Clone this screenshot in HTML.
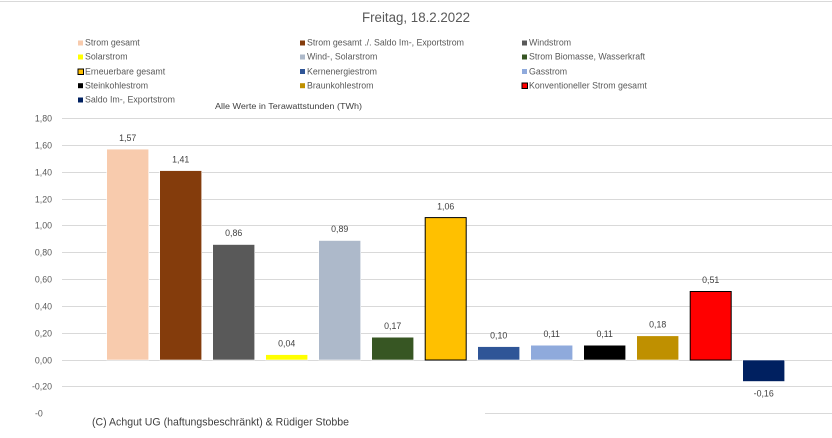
<!DOCTYPE html>
<html><head><meta charset="utf-8"><style>
html,body{margin:0;padding:0;background:#fff;}
svg{display:block;}
text{font-family:"Liberation Sans",Arial,sans-serif;}
</style></head><body>
<svg width="832" height="438" viewBox="0 0 832 438" xmlns="http://www.w3.org/2000/svg">
<rect x="0" y="0" width="832" height="438" fill="#fff"/>
<line x1="0" y1="1.5" x2="832" y2="1.5" stroke="#D9D9D9" stroke-width="1"/>
<text x="416" y="22" text-anchor="middle" font-size="13.5" fill="#595959" textLength="108" lengthAdjust="spacingAndGlyphs">Freitag, 18.2.2022</text>

<!-- legend -->
<g font-size="8.8" fill="#595959">
<rect x="78" y="40.5" width="5" height="5" fill="#F8CBAD"/><text x="85" y="45.7">Strom gesamt</text>
<rect x="300" y="40.5" width="5" height="5" fill="#843C0C"/><text x="307" y="45.7">Strom gesamt ./. Saldo Im-, Exportstrom</text>
<rect x="522" y="40.5" width="5" height="5" fill="#595959"/><text x="529" y="45.7">Windstrom</text>

<rect x="78" y="54.5" width="5" height="5" fill="#FFFF00"/><text x="85" y="59.7">Solarstrom</text>
<rect x="300" y="54.5" width="5" height="5" fill="#ADB9CA"/><text x="307" y="59.7">Wind-, Solarstrom</text>
<rect x="522" y="54.5" width="5" height="5" fill="#375623"/><text x="529" y="59.7">Strom Biomasse, Wasserkraft</text>

<rect x="78" y="69" width="5.5" height="5.5" fill="#FFC000" stroke="#000" stroke-width="1"/><text x="85" y="74.5">Erneuerbare gesamt</text>
<rect x="300" y="69" width="5" height="5" fill="#2F5597"/><text x="307" y="74.5">Kernenergiestrom</text>
<rect x="522" y="69" width="5" height="5" fill="#8FAADC"/><text x="529" y="74.5">Gasstrom</text>

<rect x="78" y="83.2" width="5" height="5" fill="#000000"/><text x="85" y="88.5">Steinkohlestrom</text>
<rect x="300" y="83.2" width="5" height="5" fill="#BF9000"/><text x="307" y="88.5">Braunkohlestrom</text>
<rect x="522" y="83" width="5.5" height="5.5" fill="#FF0000" stroke="#000" stroke-width="1"/><text x="529" y="88.5">Konventioneller Strom gesamt</text>

<rect x="78" y="97.5" width="5" height="5" fill="#002060"/><text x="85" y="102.7">Saldo Im-, Exportstrom</text>
</g>
<text x="215" y="109" font-size="8.6" fill="#404040" textLength="147" lengthAdjust="spacingAndGlyphs">Alle Werte in Terawattstunden (TWh)</text>

<!-- gridlines -->
<g stroke="#D9D9D9" stroke-width="1">
<line x1="62" y1="118.5" x2="832" y2="118.5"/>
<line x1="62" y1="145.5" x2="832" y2="145.5"/>
<line x1="62" y1="172.5" x2="832" y2="172.5"/>
<line x1="62" y1="199.5" x2="832" y2="199.5"/>
<line x1="62" y1="225.5" x2="832" y2="225.5"/>
<line x1="62" y1="252.5" x2="832" y2="252.5"/>
<line x1="62" y1="279.5" x2="832" y2="279.5"/>
<line x1="62" y1="306.5" x2="832" y2="306.5"/>
<line x1="62" y1="333.5" x2="832" y2="333.5"/>
<line x1="62" y1="360.5" x2="832" y2="360.5"/>
<line x1="62" y1="386.5" x2="832" y2="386.5"/>
<line x1="485" y1="413.5" x2="832" y2="413.5"/>
</g>

<!-- y axis labels -->
<g font-size="8.8" fill="#595959" text-anchor="end">
<text x="52" y="121.5">1,80</text>
<text x="52" y="148.5">1,60</text>
<text x="52" y="175.5">1,40</text>
<text x="52" y="202.5">1,20</text>
<text x="52" y="228.5">1,00</text>
<text x="52" y="255.5">0,80</text>
<text x="52" y="282.5">0,60</text>
<text x="52" y="309.5">0,40</text>
<text x="52" y="336.5">0,20</text>
<text x="52" y="363.5">0,00</text>
<text x="52" y="389.5">-0,20</text>
</g>
<text x="35" y="416.5" font-size="8.8" fill="#595959">-0</text>

<!-- bars -->
<g stroke="#fff" stroke-width="0.6">
<rect x="106.7" y="149.1" width="42" height="210.9" fill="#F8CBAD"/>
<rect x="159.7" y="170.6" width="42" height="189.4" fill="#843C0C"/>
<rect x="212.7" y="244.5" width="42" height="115.5" fill="#595959"/>
<rect x="265.7" y="354.6" width="42" height="5.4" fill="#FFFF00"/>
<rect x="318.7" y="240.5" width="42" height="119.5" fill="#ADB9CA"/>
<rect x="371.7" y="337.2" width="42" height="22.8" fill="#375623"/>
<rect x="477.7" y="346.6" width="42" height="13.4" fill="#2F5597"/>
<rect x="530.7" y="345.2" width="42" height="14.8" fill="#8FAADC"/>
<rect x="583.7" y="345.2" width="42" height="14.8" fill="#000000"/>
<rect x="636.7" y="335.8" width="42" height="24.2" fill="#BF9000"/>
<rect x="742.7" y="360" width="42" height="21.5" fill="#002060"/>
</g>
<rect x="425.2" y="217.6" width="41" height="142.4" fill="#FFC000" stroke="#000" stroke-width="1"/>
<rect x="690.2" y="291.5" width="41" height="68.5" fill="#FF0000" stroke="#000" stroke-width="1"/>

<!-- data labels -->
<g font-size="8.8" fill="#404040" text-anchor="middle">
<text x="127.7" y="140.8">1,57</text>
<text x="180.7" y="162.3">1,41</text>
<text x="233.7" y="236.2">0,86</text>
<text x="286.7" y="346.3">0,04</text>
<text x="339.7" y="232.2">0,89</text>
<text x="392.7" y="328.9">0,17</text>
<text x="445.7" y="209.3">1,06</text>
<text x="498.7" y="338.3">0,10</text>
<text x="551.7" y="336.9">0,11</text>
<text x="604.7" y="336.9">0,11</text>
<text x="657.7" y="327.5">0,18</text>
<text x="710.7" y="283.2">0,51</text>
<text x="763.7" y="396.5">-0,16</text>
</g>

<text x="92" y="425.5" font-size="10.8" fill="#404040" textLength="257" lengthAdjust="spacingAndGlyphs">(C) Achgut UG (haftungsbeschränkt) &amp; Rüdiger Stobbe</text>
</svg>
</body></html>
